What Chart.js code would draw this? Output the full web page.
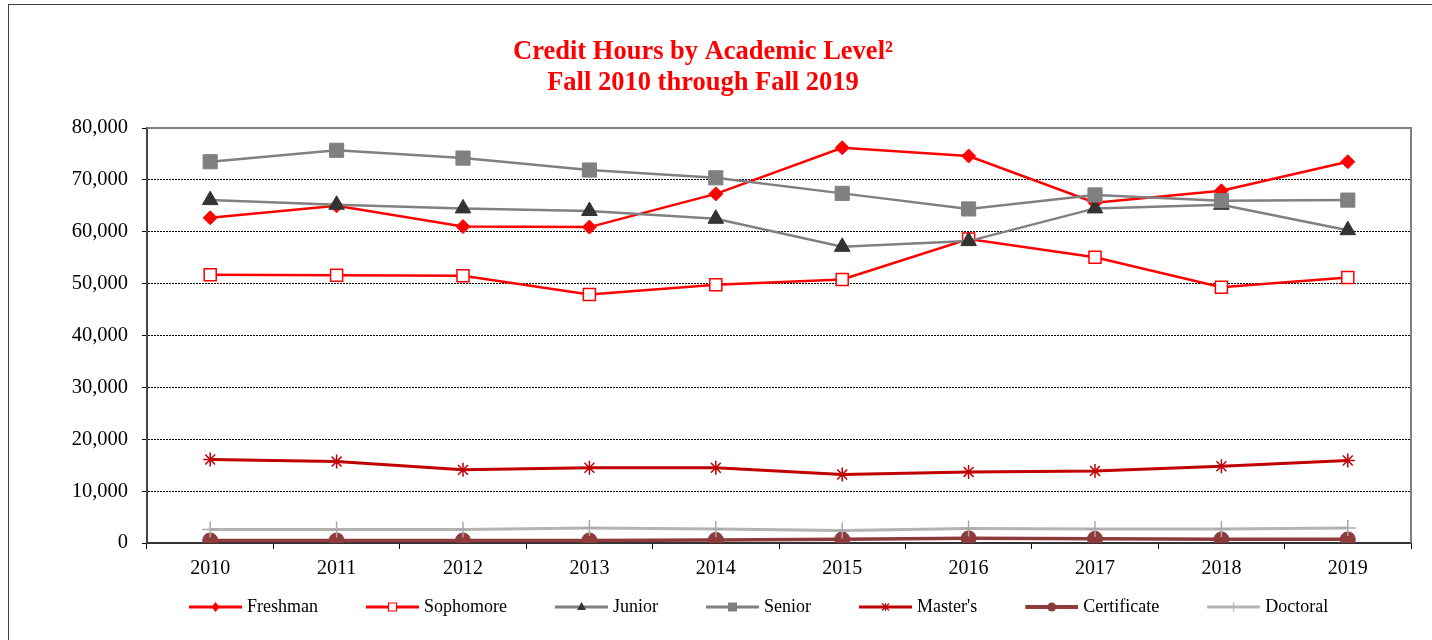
<!DOCTYPE html>
<html>
<head>
<meta charset="utf-8">
<script src="https://cdn.jsdelivr.net/npm/chart.js@4.4.0/dist/chart.umd.min.js"></script>
<style>
  html, body { margin: 0; padding: 0; background: #fff; overflow: hidden; width: 1432px; height: 640px; }
  #frame { position: absolute; left: 8px; top: 4px; width: 1460px; height: 700px; border: 1px solid #404040; }
  #myChart { position: absolute; left: -25px; top: 0; }
</style>
</head>
<body>
<div id="frame"></div>
<canvas id="myChart" width="1457" height="640"></canvas>
<script>
const years = ['2010', '2011', '2012', '2013', '2014', '2015', '2016', '2017', '2018', '2019']

const freshman = [62700, 65000, 61000, 60900, 67300, 76200, 74600, 65600, 67900, 73500]
const sophomore = [51700, 51600, 51500, 47900, 49800, 50800, 58600, 55100, 49300, 51200]
const junior = [66100, 65200, 64500, 64000, 62500, 57100, 58200, 64500, 65200, 60300]
const senior = [73500, 75700, 74200, 71900, 70400, 67400, 64400, 67100, 66000, 66100]
const masters = [16100, 15700, 14100, 14500, 14500, 13200, 13700, 13900, 14800, 15900]
const certificate = [500, 500, 500, 500, 600, 700, 900, 800, 700, 700]
const doctoral = [2600, 2600, 2600, 2900, 2700, 2400, 2800, 2700, 2700, 2900]

const yTicks = [0, 10000, 20000, 30000, 40000, 50000, 60000, 70000, 80000]

const serif = 'Liberation Serif, Times New Roman, serif'

// legend icons: a line with a small marker, left part transparent
function makeIcon(color, width, marker, fill) {
    const c = document.createElement('canvas')
    c.width = 88
    c.height = 16
    const g = c.getContext('2d')
    g.strokeStyle = color
    g.lineWidth = width
    g.beginPath()
    g.moveTo(35, 8)
    g.lineTo(88, 8)
    g.stroke()
    const mx = 61.5, my = 8
    g.fillStyle = fill || color
    g.strokeStyle = marker === 'square-open' ? '#ff0000' : color
    g.lineWidth = 1.2
    g.beginPath()
    if (marker === 'diamond') {
        g.moveTo(mx, my - 5); g.lineTo(mx + 4, my); g.lineTo(mx, my + 5); g.lineTo(mx - 4, my); g.closePath(); g.fill()
    } else if (marker === 'square-open') {
        g.rect(mx - 4, my - 4, 8, 8); g.fill(); g.stroke()
    } else if (marker === 'triangle') {
        g.moveTo(mx, my - 5); g.lineTo(mx + 4.5, my + 3); g.lineTo(mx - 4.5, my + 3); g.closePath(); g.fill()
    } else if (marker === 'square') {
        g.rect(mx - 4.5, my - 4.5, 9, 9); g.fill()
    } else if (marker === 'star') {
        g.moveTo(mx, my - 4); g.lineTo(mx, my + 4)
        g.moveTo(mx - 3.5, my - 3.5); g.lineTo(mx + 3.5, my + 3.5)
        g.moveTo(mx + 3.5, my - 3.5); g.lineTo(mx - 3.5, my + 3.5)
        g.stroke()
    } else if (marker === 'circle') {
        g.arc(mx, my, 4.5, 0, Math.PI * 2); g.fill()
    } else if (marker === 'plus') {
        g.moveTo(mx, my - 5); g.lineTo(mx, my + 5); g.stroke()
    }
    return c
}

const legendIcons = [
    makeIcon('#ff0000', 3, 'diamond'),
    makeIcon('#ff0000', 3, 'square-open', '#ffffff'),
    makeIcon('#808080', 3, 'triangle', '#333333'),
    makeIcon('#808080', 3, 'square'),
    makeIcon('#c00000', 3, 'star'),
    makeIcon('#8e3b3b', 4, 'circle'),
    makeIcon('#b4b4b4', 3, 'plus')
]

const series = [
    { label: 'Freshman', data: freshman, borderColor: '#ff0000', borderWidth: 2.5, pointStyle: 'rectRot', pointRadius: 7, pointBackgroundColor: '#ff0000', pointBorderColor: '#ff0000', pointBorderWidth: 1 },
    { label: 'Sophomore', data: sophomore, borderColor: '#ff0000', borderWidth: 2.5, pointStyle: 'rect', pointRadius: 8.5, pointBackgroundColor: '#ffffff', pointBorderColor: '#ff0000', pointBorderWidth: 1.5 },
    { label: 'Junior', data: junior, borderColor: '#808080', borderWidth: 2.5, pointStyle: 'triangle', pointRadius: 9, pointBackgroundColor: '#333333', pointBorderColor: '#333333', pointBorderWidth: 1 },
    { label: 'Senior', data: senior, borderColor: '#808080', borderWidth: 2.5, pointStyle: 'rect', pointRadius: 10, pointBackgroundColor: '#808080', pointBorderColor: '#808080', pointBorderWidth: 1 },
    { label: "Master's", data: masters, borderColor: '#c00000', borderWidth: 3, pointStyle: 'star', pointRadius: 7, pointBackgroundColor: '#c00000', pointBorderColor: '#c00000', pointBorderWidth: 1.5 },
    { label: 'Certificate', data: certificate, borderColor: '#8e3b3b', borderWidth: 3.5, pointStyle: 'circle', pointRadius: 7.5, pointBackgroundColor: '#8e3b3b', pointBorderColor: '#8e3b3b', pointBorderWidth: 1 },
    { label: 'Doctoral', data: doctoral, borderColor: '#b4b4b4', borderWidth: 3, pointStyle: 'cross', pointRadius: 8, pointBackgroundColor: '#aaaaaa', pointBorderColor: '#aaaaaa', pointBorderWidth: 1.5 }
]

// later series on top, like the original
const datasets = series.map((s, i) => ({ ...s, order: series.length - i, fill: false, tension: 0 }))

const plotFrame = {
    id: 'plotFrame',
    afterLayout(chart) {
        // nudge legend a bit to the left
        chart.legend.left -= 6
        chart.legend.right -= 6
    },
    beforeDatasetsDraw(chart) {
        const { ctx, chartArea: a } = chart
        ctx.save()
        ctx.strokeStyle = '#808080'
        ctx.lineWidth = 2
        ctx.beginPath()
        ctx.moveTo(a.left, a.top)
        ctx.lineTo(a.right, a.top)
        ctx.lineTo(a.right, a.bottom)
        ctx.stroke()
        ctx.restore()
    }
}

const ctx = document.getElementById('myChart').getContext('2d')

const config = {
    type: 'line',
    data: { labels: years, datasets },
    options: {
        responsive: false,
        animation: false,
        layout: { padding: { left: 20, right: 21, top: 0, bottom: 14 } },
        scales: {
            x: {
                offset: true,
                afterFit: scale => { scale.height -= 8 },
                grid: { offset: true, drawOnChartArea: false, tickLength: 6, tickColor: '#000', tickWidth: 1 },
                border: { color: '#333', width: 2 },
                ticks: { color: '#000', font: { family: serif, size: 20 }, padding: 8, maxRotation: 0 }
            },
            y: {
                min: 0,
                max: 80000,
                afterFit: scale => { scale.width = 152 },
                afterBuildTicks: scale => { scale.ticks = yTicks.map(v => ({ value: v })) },
                grid: {
                    color: c => (c.tick && (c.tick.value === 0 || c.tick.value === 80000)) ? 'rgba(0,0,0,0)' : '#000',
                    lineWidth: 1,
                    tickLength: 5,
                    tickColor: '#000',
                    tickWidth: 1
                },
                border: { color: '#444', width: 2, dash: [2, 1] },
                ticks: {
                    color: '#000',
                    font: { family: serif, size: 20.5 },
                    padding: 14,
                    callback: v => v.toLocaleString('en-US')
                }
            }
        },
        plugins: {
            title: {
                display: true,
                text: ['Credit Hours by Academic Level\u00b2', 'Fall 2010 through Fall 2019'],
                color: '#ff0000',
                font: { family: serif, size: 26.5, weight: 'bold', lineHeight: 1.17 },
                padding: { top: 37, bottom: 29 }
            },
            legend: {
                position: 'bottom',
                align: 'start',
                fullSize: false,
                labels: {
                    usePointStyle: true,
                    pointStyleWidth: 80,
                    padding: 17,
                    color: '#000',
                    font: { family: serif, size: 18 },
                    generateLabels: chart => Chart.defaults.plugins.legend.labels.generateLabels(chart)
                        .sort((a, b) => a.datasetIndex - b.datasetIndex)
                        .map(l => ({ ...l, pointStyle: legendIcons[l.datasetIndex] }))
                }
            },
            tooltip: { enabled: false }
        }
    },
    plugins: [plotFrame]
}

const myChart = new Chart(ctx, config)
</script>
</body>
</html>
